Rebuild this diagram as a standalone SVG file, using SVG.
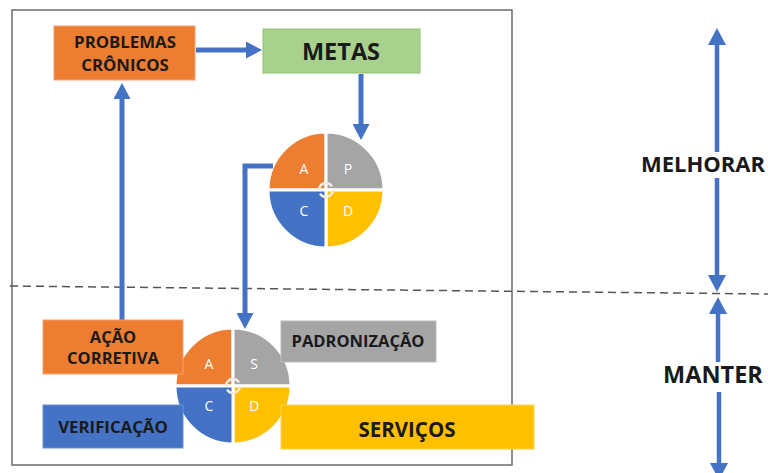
<svg xmlns="http://www.w3.org/2000/svg" width="768" height="473" viewBox="0 0 768 473">
<style>
.box{stroke-width:1}
.lbl{font-family:"Open Sans","Liberation Sans",sans-serif;font-weight:bold;fill:#1a1a1a;text-anchor:middle}
.q{stroke:#fff;stroke-width:3}
.qt{font-family:"Open Sans","Liberation Sans",sans-serif;font-size:14px;fill:#fff;text-anchor:middle}
.ico{fill:none;stroke:#f3e9df;stroke-width:2.5;stroke-dasharray:18 4}
.arr{fill:none;stroke:#4472C4;stroke-width:5;marker-end:url(#ah)}
.side{fill:none;stroke:#4472C4;stroke-width:4.5}
</style>
<defs>
<marker id="ah" markerUnits="userSpaceOnUse" markerWidth="17" markerHeight="17" refX="2" refY="8.5" orient="auto">
<path d="M0,0 L16,8.5 L0,17 Z" fill="#4472C4"/>
</marker>
<marker id="ah2" markerUnits="userSpaceOnUse" markerWidth="18" markerHeight="18" refX="2" refY="9" orient="auto">
<path d="M0,0 L17,9 L0,18 Z" fill="#4472C4"/>
</marker>
</defs>
<rect width="768" height="473" fill="#fff"/>
<rect id="frame" x="12" y="10" width="500" height="455" fill="none" stroke="#6b6b6b" stroke-width="1.5"/>
<line id="divider" x1="10" y1="286" x2="768" y2="294" stroke="#555" stroke-width="1.5" stroke-dasharray="8 5"/>

<g id="pdca-top">
<path class="q" fill="#ED7D31" d="M326,190 L268,190 A58,58 0 0 1 326,132 Z"/>
<path class="q" fill="#A5A5A5" d="M326,190 L326,132 A58,58 0 0 1 384,190 Z"/>
<path class="q" fill="#FFC000" d="M326,190 L384,190 A58,58 0 0 1 326,248 Z"/>
<path class="q" fill="#4472C4" d="M326,190 L326,248 A58,58 0 0 1 268,190 Z"/>
<circle class="ico" cx="326" cy="190" r="7"/>
<text class="qt" x="304" y="174">A</text>
<text class="qt" x="348" y="174">P</text>
<text class="qt" x="304" y="216">C</text>
<text class="qt" x="348" y="216">D</text>
</g>

<g id="sdca-bottom">
<path class="q" fill="#ED7D31" d="M233,386 L175,386 A58,58 0 0 1 233,328 Z"/>
<path class="q" fill="#A5A5A5" d="M233,386 L233,328 A58,58 0 0 1 291,386 Z"/>
<path class="q" fill="#FFC000" d="M233,386 L291,386 A58,58 0 0 1 233,444 Z"/>
<path class="q" fill="#4472C4" d="M233,386 L233,444 A58,58 0 0 1 175,386 Z"/>
<circle class="ico" cx="233" cy="386" r="7"/>
<text class="qt" x="209" y="369">A</text>
<text class="qt" x="254" y="369">S</text>
<text class="qt" x="209" y="411">C</text>
<text class="qt" x="254" y="411">D</text>
</g>

<g id="connectors">
<line class="arr" x1="196" y1="50" x2="248" y2="50"/>
<line class="arr" x1="361" y1="74" x2="361" y2="126"/>
<path class="arr" d="M273,166 H245 V315"/>
<line class="arr" x1="122" y1="320" x2="122" y2="97"/>
<line class="side" x1="717" y1="152" x2="717" y2="43" marker-end="url(#ah2)"/>
<line class="side" x1="717" y1="178" x2="717" y2="277" marker-end="url(#ah2)"/>
<line class="side" x1="718" y1="362" x2="718" y2="312" marker-end="url(#ah2)"/>
<line class="side" x1="719" y1="392" x2="719" y2="465" marker-end="url(#ah2)"/>
</g>

<g id="problemas">
<rect class="box" x="54" y="26" width="141" height="54" fill="#ED7D31" stroke="#f4a070"/>
<text class="lbl" x="125" y="48" font-size="16.8">PROBLEMAS</text>
<text class="lbl" x="125" y="71" font-size="16.8">CRÔNICOS</text>
</g>
<g id="metas">
<rect class="box" x="263" y="29" width="157" height="44" fill="#A9D18E" stroke="#8fbf72"/>
<text class="lbl" x="341" y="60" font-size="23.5">METAS</text>
</g>
<g id="acao">
<rect class="box" x="43" y="320" width="140" height="54" fill="#ED7D31" stroke="#f4a070"/>
<text class="lbl" x="113" y="343" font-size="16.5">AÇÃO</text>
<text class="lbl" x="113" y="364" font-size="16.5">CORRETIVA</text>
</g>
<g id="verificacao">
<rect class="box" x="43" y="405" width="140" height="43" fill="#4472C4" stroke="#6a8fd0"/>
<text class="lbl" x="113" y="433" font-size="16.8">VERIFICAÇÃO</text>
</g>
<g id="padronizacao">
<rect class="box" x="281" y="321" width="155" height="41" fill="#A5A5A5" stroke="#bdbdbd"/>
<text class="lbl" x="358" y="347" font-size="16.5">PADRONIZAÇÃO</text>
</g>
<g id="servicos">
<rect class="box" x="281" y="405" width="253" height="44" fill="#FFC000" stroke="#ffd24d"/>
<text class="lbl" x="407" y="437" font-size="20.5">SERVIÇOS</text>
</g>
<g id="melhorar">
<text class="lbl" x="641" y="172" font-size="22" style="text-anchor:start">MELHORAR</text>
</g>
<g id="manter">
<text class="lbl" x="713" y="383" font-size="23.5">MANTER</text>
</g>
</svg>
